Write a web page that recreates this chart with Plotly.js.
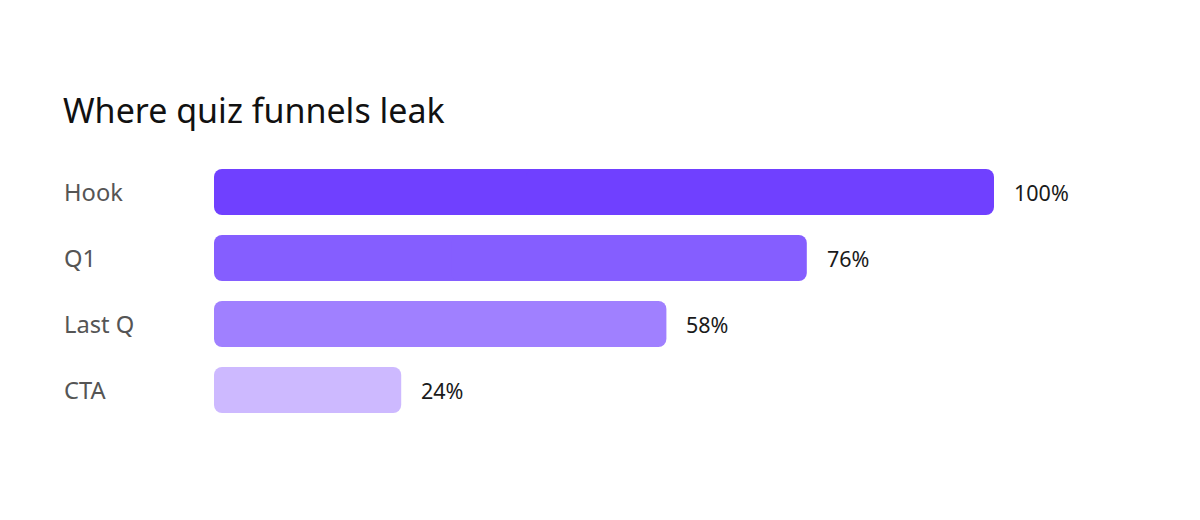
<!DOCTYPE html>
<html>
<head>
<meta charset="utf-8">
<script src="https://cdn.plot.ly/plotly-3.0.1.min.js"></script>
<style>
  html, body { margin: 0; padding: 0; background: #fff; }
  #plot { width: 1200px; height: 520px; }
</style>
</head>
<body>
<div id="plot"></div>
<script>
"use strict";

// Funnel stages, top to bottom, and share of users reaching each one.
const stages = ["Hook", "Q1", "Last Q", "CTA"];
const reachPct = [100, 76, 58, 24];
const stageColors = ["#7040FF", "#855EFF", "#A080FF", "#CDB9FF"];

const FONT = "Noto Sans, Open Sans, sans-serif";

// Plotly only rounds the tip of a bar, so each bar is drawn as two
// overlapping halves: one growing left from 60% (round left end),
// one growing right from 40% (round right end).
const leftHalf = {
    type: "bar", orientation: "h", y: stages,
    base: reachPct.map(v => v * 0.6),
    x: reachPct.map(v => -v * 0.6),
    marker: { color: stageColors, cornerradius: 8, line: { width: 0 } },
    hoverinfo: "skip",
};
const rightHalf = {
    type: "bar", orientation: "h", y: stages,
    base: reachPct.map(v => v * 0.4),
    x: reachPct.map(v => v * 0.6),
    marker: { color: stageColors, cornerradius: 8, line: { width: 0 } },
    hoverinfo: "skip",
};

// Stage names sit left-aligned in the margin, values just past each bar.
const stageLabels = stages.map(s => ({
    xref: "paper", yref: "y", x: -152 / 780, y: s,
    xanchor: "left", yanchor: "middle", showarrow: false,
    text: s, font: { family: FONT, size: 23.7, color: "#555555" },
}));
const valueLabels = stages.map((s, i) => ({
    xref: "x", yref: "y", x: reachPct[i], y: s,
    xanchor: "left", yanchor: "middle", showarrow: false, xshift: 18,
    text: reachPct[i] + "%", font: { family: FONT, size: 21.5, color: "#1a1a1a" },
}));

const layout = {
    width: 1200, height: 520,
    paper_bgcolor: "#fff", plot_bgcolor: "#fff",
    margin: { l: 214, r: 206, t: 159, b: 97 },
    title: {
        text: "Where quiz funnels leak",
        x: 63 / 1200, xanchor: "left", xref: "container",
        y: 1 - 111 / 520, yanchor: "middle", yref: "container",
        font: { family: FONT, size: 34, color: "#111111" },
    },
    xaxis: { range: [0, 100], visible: false, fixedrange: true },
    yaxis: {
        autorange: false, range: [3.5, -0.5],
        categoryorder: "array", categoryarray: stages,
        showticklabels: false, showgrid: false, zeroline: false,
        fixedrange: true,
    },
    barmode: "overlay",
    bargap: 20 / 66,
    showlegend: false,
    annotations: [...stageLabels, ...valueLabels],
};

Plotly.newPlot("plot", [leftHalf, rightHalf], layout, { displayModeBar: false, staticPlot: true });
</script>
</body>
</html>
